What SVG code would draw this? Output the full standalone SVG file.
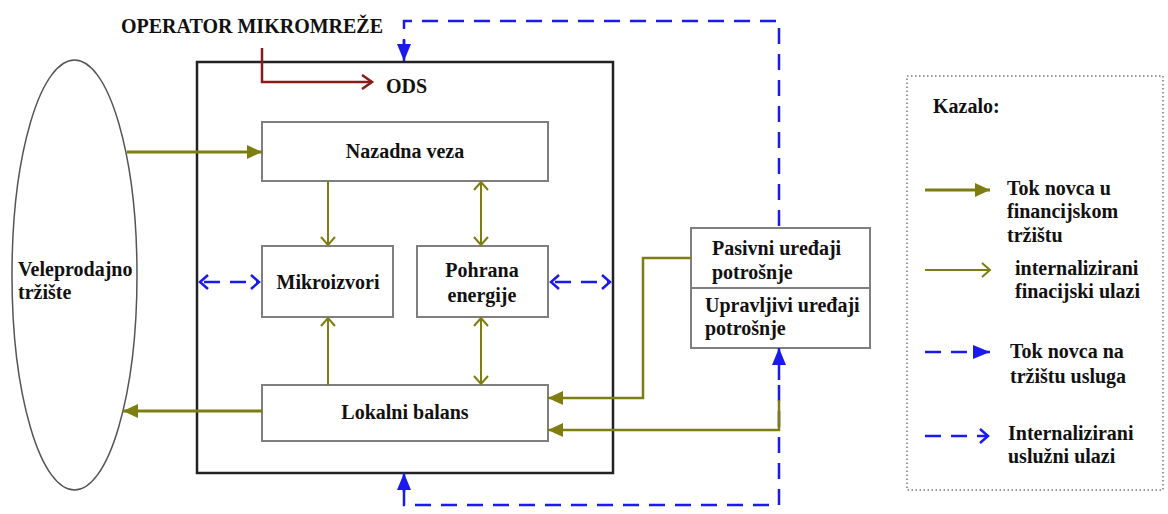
<svg xmlns="http://www.w3.org/2000/svg" width="1168" height="514" viewBox="0 0 1168 514">
<style>
text{font-family:"Liberation Serif","Times New Roman",serif;font-weight:bold;font-size:20px;fill:#111}
.box{fill:#fff;stroke:#7f7f7f;stroke-width:2}
.of{fill:none;stroke:#7d7d12;stroke-width:3}
.oo{fill:none;stroke:#7d7d12;stroke-width:2}
.bd{fill:none;stroke:#1a1aee;stroke-width:2.5;stroke-dasharray:16 10}
.bs{fill:none;stroke:#1a1aee;stroke-width:2.5}
</style>
<defs>
<marker id="oF" markerUnits="userSpaceOnUse" markerWidth="16" markerHeight="14" refX="15" refY="7" orient="auto"><path d="M0,0 L15,7 L0,14 z" fill="#7d7d12"/></marker>
<marker id="oO" markerUnits="userSpaceOnUse" markerWidth="12" markerHeight="16" refX="9" refY="8" orient="auto-start-reverse"><path d="M1,1 L9,8 L1,15" fill="none" stroke="#7d7d12" stroke-width="2"/></marker>
<marker id="bF" markerUnits="userSpaceOnUse" markerWidth="18" markerHeight="14" refX="17" refY="7" orient="auto"><path d="M0,0 L17,7 L0,14 z" fill="#1a1aee"/></marker>
<marker id="bO" markerUnits="userSpaceOnUse" markerWidth="12" markerHeight="16" refX="9" refY="8" orient="auto-start-reverse"><path d="M1,1 L9,8 L1,15" fill="none" stroke="#1a1aee" stroke-width="2.5"/></marker>
<marker id="rO" markerUnits="userSpaceOnUse" markerWidth="14" markerHeight="16" refX="11" refY="8" orient="auto"><path d="M1,1 L11,8 L1,15" fill="none" stroke="#8b1a1a" stroke-width="2.5"/></marker>
</defs>

<g id="veleprodajno">
<ellipse cx="74.5" cy="275" rx="62.5" ry="215" fill="#fff" stroke="#555" stroke-width="1.5"/>
<text x="18" y="276">Veleprodajno</text>
<text x="18" y="299">tržište</text>
</g>

<g id="operator">
<text x="121" y="33">OPERATOR MIKROMREŽE</text>
</g>

<g id="mikromreza">
<rect x="197" y="62" width="416" height="411" fill="none" stroke="#222" stroke-width="2.5"/>
<text x="386" y="93">ODS</text>
</g>

<g id="nazadna">
<rect class="box" x="262" y="122" width="286" height="59"/>
<text x="405" y="158" text-anchor="middle">Nazadna veza</text>
</g>

<g id="mikroizvori">
<rect class="box" x="262" y="246" width="131" height="71"/>
<text x="328" y="289" text-anchor="middle">Mikroizvori</text>
</g>

<g id="pohrana">
<rect class="box" x="417" y="246" width="131" height="71"/>
<text x="482" y="277" text-anchor="middle">Pohrana</text>
<text x="482" y="302" text-anchor="middle">energije</text>
</g>

<g id="lokalni">
<rect class="box" x="262" y="385" width="286" height="56"/>
<text x="405" y="419" text-anchor="middle">Lokalni balans</text>
</g>

<g id="uredaji">
<rect class="box" x="691" y="228" width="179" height="120"/>
<line x1="691" y1="288" x2="870" y2="288" stroke="#7f7f7f" stroke-width="2"/>
<text x="712" y="255">Pasivni uređaji</text>
<text x="712" y="279">potrošnje</text>
<text x="705" y="312">Upravljivi uređaji</text>
<text x="705" y="335">potrošnje</text>
</g>

<g id="connectors">
<path d="M262,48 V82 H372" fill="none" stroke="#8b1a1a" stroke-width="2.5" marker-end="url(#rO)"/>
<path class="bd" d="M779,226 V21 H404 V44"/>
<path class="bs" d="M404,40 V61" marker-end="url(#bF)"/>
<path class="bd" d="M404,490 V505 H779 V380"/>
<path class="bs" d="M404,492 V473" marker-end="url(#bF)"/>
<path class="bs" d="M779,380 V348" marker-end="url(#bF)"/>
<path class="bd" d="M200,282 H259" stroke-dasharray="14 10" stroke-dashoffset="-4" marker-start="url(#bO)" marker-end="url(#bO)"/>
<path class="bd" d="M551,282 H610" stroke-dasharray="14 10" stroke-dashoffset="-4" marker-start="url(#bO)" marker-end="url(#bO)"/>
<path class="of" d="M127,152 H262" marker-end="url(#oF)"/>
<path class="oo" d="M328,181 V245" marker-end="url(#oO)"/>
<path class="oo" d="M481,182 V245" marker-start="url(#oO)" marker-end="url(#oO)"/>
<path class="oo" d="M328,385 V318" marker-end="url(#oO)"/>
<path class="oo" d="M481,318 V384" marker-start="url(#oO)" marker-end="url(#oO)"/>
<path class="of" d="M262,411 H123" marker-end="url(#oF)"/>
<path d="M691,258 H643 V398 H548" fill="none" stroke="#7d7d12" stroke-width="2.5" marker-end="url(#oF)"/>
<path d="M779,400 V430 H548" fill="none" stroke="#7d7d12" stroke-width="2.5" marker-end="url(#oF)"/>
</g>

<g id="kazalo">
<rect x="907" y="76" width="256" height="414" fill="none" stroke="#777" stroke-width="1.5" stroke-dasharray="1.5 2.5"/>
<text x="933" y="113">Kazalo:</text>
<path class="of" d="M925,190 H990" marker-end="url(#oF)"/>
<text x="1007" y="195">Tok novca u</text>
<text x="1007" y="218">financijskom</text>
<text x="1007" y="242">tržištu</text>
<path class="oo" d="M925,270 H990" stroke-width="2.5" marker-end="url(#oO)"/>
<text x="1015" y="275">internalizirani</text>
<text x="1015" y="298">finacijski ulazi</text>
<path class="bd" d="M925,352 H975" stroke-dasharray="14 10"/>
<path class="bs" d="M974,352 H990" marker-end="url(#bF)"/>
<text x="1010" y="358">Tok novca na</text>
<text x="1010" y="383">tržištu usluga</text>
<path class="bd" d="M925,436 H988" stroke-dasharray="14 10" marker-end="url(#bO)"/>
<text x="1008" y="440">Internalizirani</text>
<text x="1008" y="463">uslužni ulazi</text>
</g>
</svg>
